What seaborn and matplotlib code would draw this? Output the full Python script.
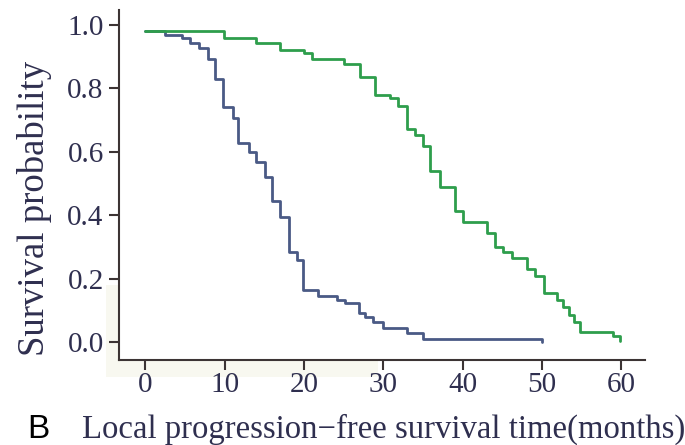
import matplotlib
matplotlib.use("Agg")
import matplotlib.pyplot as plt
import seaborn as sns
import pandas as pd
from matplotlib.patches import Rectangle

# Group 1 (slate blue) Kaplan-Meier steps
blue_time = [0, 2.5, 4.6, 5.6, 6.7, 7.9, 8.8, 9.8, 11.1, 11.7, 13.0, 14.0, 15.1, 16.0,
             17.0, 18.1, 19.1, 19.9, 21.8, 24.1, 25.2, 26.9, 27.7, 28.7, 30.0, 33.0,
             35.0, 50.0]
blue_surv = [0.98, 0.968, 0.958, 0.942, 0.927, 0.892, 0.83, 0.74, 0.705, 0.629, 0.60,
             0.566, 0.521, 0.443, 0.395, 0.285, 0.259, 0.164, 0.145, 0.132, 0.122, 0.09,
             0.08, 0.064, 0.043, 0.027, 0.01, 0.0]

# Group 2 (green) Kaplan-Meier steps
green_time = [0, 9.9, 13.9, 17.0, 20.0, 21.0, 25.0, 27.0, 29.0, 30.9, 31.9, 33.0, 34.0,
              35.0, 35.9, 37.2, 39.0, 40.1, 43.1, 44.1, 45.1, 46.2, 48.1, 49.1, 50.2,
              51.9, 52.7, 53.4, 54.0, 54.8, 59.0, 59.8]
green_surv = [0.98, 0.96, 0.942, 0.921, 0.911, 0.892, 0.878, 0.835, 0.78, 0.769, 0.745,
              0.671, 0.653, 0.618, 0.539, 0.488, 0.413, 0.378, 0.343, 0.30, 0.285, 0.264,
              0.229, 0.209, 0.155, 0.132, 0.111, 0.085, 0.064, 0.030, 0.020, 0.003]

x_ticks = [0, 10, 20, 30, 40, 50, 60]
y_ticks = [0.0, 0.2, 0.4, 0.6, 0.8, 1.0]
y_tick_labels = ["0.0", "0.2", "0.4", "0.6", "0.8", "1.0"]

df = pd.concat([
    pd.DataFrame({"time": blue_time, "surv": blue_surv, "group": "A"}),
    pd.DataFrame({"time": green_time, "surv": green_surv, "group": "B"}),
], ignore_index=True)

sns.set_style("ticks")
plt.rcParams["font.family"] = ["Liberation Serif", "DejaVu Serif"]

text_color = "#2f2f4f"
spine_color = "#3c3434"

fig = plt.figure(figsize=(6.85, 4.45), dpi=100)
W, H = 685, 445
ax = fig.add_axes([119 / W, 1 - 360 / H, (645 - 119) / W, (360 - 10) / H])

# faint scan tint near the lower-left corner
fig.patches.append(Rectangle((106 / W, 1 - 377 / H), (378 - 106) / W, (377 - 285) / H,
                             transform=fig.transFigure, facecolor="#f8f8f0",
                             edgecolor="none", zorder=-1))

sns.lineplot(data=df, x="time", y="surv", hue="group",
             palette={"A": "#4a5a85", "B": "#2e9e4c"},
             drawstyle="steps-post", sort=False, estimator=None,
             linewidth=2.0, legend=False, ax=ax)

ax.set_xlim(-3.34, 63.0)
ax.set_ylim(-0.057, 1.047)
ax.set_xticks(x_ticks)
ax.set_yticks(y_ticks)
ax.set_yticklabels(y_tick_labels)
ax.set_xlabel("")
ax.set_ylabel("")

sns.despine(ax=ax)
for s in ["left", "bottom"]:
    ax.spines[s].set_color(spine_color)
    ax.spines[s].set_linewidth(1.5)
ax.tick_params(axis="both", length=7, width=1.5, color=spine_color,
               labelsize=21, labelcolor=text_color)
ax.tick_params(axis="y", pad=4)
ax.tick_params(axis="x", pad=2)

fig.text(35 / W, 1 - 208 / H, "Survival probability", rotation=90,
         ha="center", va="center", fontsize=26.5, color=text_color)
fig.text(82 / W, 1 - 438 / H, "Local progression\u2212free survival time(months)",
         ha="left", va="baseline", fontsize=23.6, color=text_color)
fig.text(27 / W, 1 - 438 / H, "B", ha="left", va="baseline", fontsize=24,
         color="black", family=["Liberation Sans", "DejaVu Sans"])

fig.savefig("out.png", dpi=100)
